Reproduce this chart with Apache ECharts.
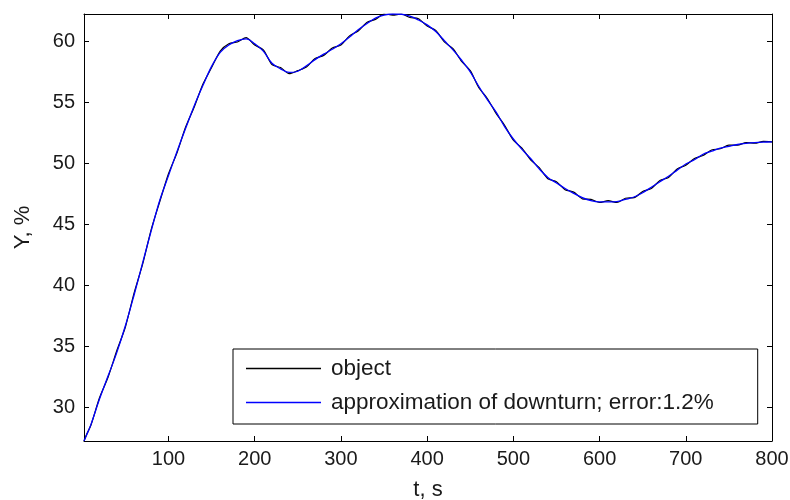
<!DOCTYPE html>
<html>
<head>
<meta charset="utf-8">
<script src="https://cdn.jsdelivr.net/npm/echarts@6/dist/echarts.min.js"></script>
<style>html,body{margin:0;padding:0;background:#fff}#c{width:790px;height:500px}</style>
</head>
<body>
<div id="c"></div>
<script>
// time, s
var tValues = [2, 5, 10, 20, 30, 40, 50, 60, 70, 80, 90, 100, 110, 120, 130, 140, 150, 160, 170, 180, 190,
  200, 210, 220, 230, 240, 250, 260, 270, 280, 290, 300, 310, 320, 330, 340, 350, 360, 370, 380, 390,
  400, 410, 420, 430, 440, 450, 460, 470, 480, 490, 500, 510, 520, 530, 540, 550, 560, 570, 580, 590,
  600, 610, 620, 630, 640, 650, 660, 670, 680, 690, 700, 710, 720, 730, 740, 750, 760, 770, 780, 790, 800];
// approximation of downturn, %
var approxValues = [27.26, 27.75, 28.6, 30.7, 32.6, 34.5, 36.7, 39.2, 41.85, 44.5, 47.0, 49.0, 51.0, 52.9, 54.75, 56.4, 57.95, 59.1, 59.7, 60.05, 60.2,
  59.8, 59.2, 58.2, 57.75, 57.45, 57.55, 58.0, 58.5, 58.95, 59.35, 59.8, 60.35, 60.95, 61.45, 61.9, 62.15, 62.24, 62.22, 62.07, 61.75,
  61.35, 60.8, 60.05, 59.3, 58.45, 57.5, 56.3, 55.2, 54.2, 53.0, 52.0, 51.15, 50.4, 49.55, 48.85, 48.4, 47.95, 47.55, 47.2, 46.95,
  46.85, 46.85, 46.87, 47.05, 47.25, 47.6, 48.05, 48.5, 48.95, 49.45, 49.95, 50.3, 50.75, 51.0, 51.25, 51.4, 51.55, 51.64, 51.7, 51.74, 51.77];
// object (measured), %
var objectValues = [27.26, 27.8, 28.55, 30.8, 32.5, 34.65, 36.6, 39.35, 41.75, 44.6, 46.9, 49.15, 50.9, 53.0, 54.65, 56.5, 57.85, 59.2, 59.8, 59.95, 60.3,
  59.7, 59.3, 58.1, 57.85, 57.35, 57.6, 57.9, 58.6, 58.85, 59.45, 59.7, 60.45, 60.85, 61.55, 61.8, 62.24, 62.15, 62.24, 61.95, 61.85,
  61.25, 60.9, 59.95, 59.4, 58.35, 57.6, 56.2, 55.3, 54.1, 53.1, 51.9, 51.25, 50.3, 49.65, 48.75, 48.5, 47.85, 47.65, 47.1, 47.05,
  46.8, 46.95, 46.8, 47.15, 47.2, 47.7, 47.95, 48.6, 48.85, 49.55, 49.85, 50.4, 50.65, 51.1, 51.2, 51.5, 51.5, 51.7, 51.65, 51.8, 51.77];
var xTicks = [100, 200, 300, 400, 500, 600, 700, 800];
var yTicks = [30, 35, 40, 45, 50, 55, 60];
var seriesNames = ['object', 'approximation of downturn; error:1.2%'];
var xName = 't, s';
var yName = 'Y, %';

function pairs(ys) { return tValues.map(function (t, i) { return [t, ys[i]]; }); }

var FONT = 'Liberation Sans, Arial, sans-serif';
var TXT = '#1a1a1a';
var AX = '#000';
var xMin = 2, xMax = 800, yMin = 27.26, yMax = 62.24;

function xAxisDef(pos, showLabel) {
  return {
    type: 'value', position: pos, min: xMin, max: xMax,
    name: showLabel ? xName : '', nameLocation: 'middle', nameGap: 38,
    nameTextStyle: { fontFamily: FONT, fontSize: 22, color: TXT },
    axisLine: { show: true, onZero: false, lineStyle: { color: AX, width: 1 } },
    axisTick: { show: true, inside: true, length: 5, customValues: xTicks, lineStyle: { color: AX } },
    axisLabel: { show: showLabel, customValues: xTicks, margin: 8, fontFamily: FONT, fontSize: 20, color: TXT },
    splitLine: { show: false }
  };
}
function yAxisDef(pos, showLabel) {
  return {
    type: 'value', position: pos, min: yMin, max: yMax,
    name: showLabel ? yName : '', nameLocation: 'middle', nameGap: 50, nameRotate: 90,
    nameTextStyle: { fontFamily: FONT, fontSize: 22, color: TXT },
    axisLine: { show: true, onZero: false, lineStyle: { color: AX, width: 1 } },
    axisTick: { show: true, inside: true, length: 5, customValues: yTicks, lineStyle: { color: AX } },
    axisLabel: { show: showLabel, customValues: yTicks, margin: 9, fontFamily: FONT, fontSize: 20, color: TXT },
    splitLine: { show: false }
  };
}

var chart = echarts.init(document.getElementById('c'), null, { renderer: 'canvas' });
chart.setOption({
  animation: false,
  backgroundColor: '#fff',
  grid: { left: 84, top: 14, right: 18, bottom: 59, containLabel: false, outerBoundsMode: 'none' },
  xAxis: [xAxisDef('bottom', true), xAxisDef('top', false)],
  yAxis: [yAxisDef('left', true), yAxisDef('right', false)],
  legend: {
    orient: 'vertical', left: 233, top: 349,
    icon: 'rect', itemWidth: 75, itemHeight: 1.5, itemGap: 11,
    padding: [8, 44, 10, 13],
    borderColor: '#000', borderWidth: 1, backgroundColor: '#fff',
    textStyle: { fontFamily: FONT, fontSize: 22.5, color: TXT, padding: [0, 0, 0, 5] },
    data: seriesNames
  },
  series: [
    { name: seriesNames[0], type: 'line', data: pairs(objectValues), symbol: 'none', showSymbol: false,
      smooth: 0.25,
      lineStyle: { color: '#000', width: 1.2 }, itemStyle: { color: '#000' }, z: 2 },
    { name: seriesNames[1], type: 'line', data: pairs(approxValues), symbol: 'none', showSymbol: false,
      smooth: 0.35,
      lineStyle: { color: '#0000ff', width: 1.3 }, itemStyle: { color: '#0000ff' }, z: 3 }
  ]
});
</script>
</body>
</html>
